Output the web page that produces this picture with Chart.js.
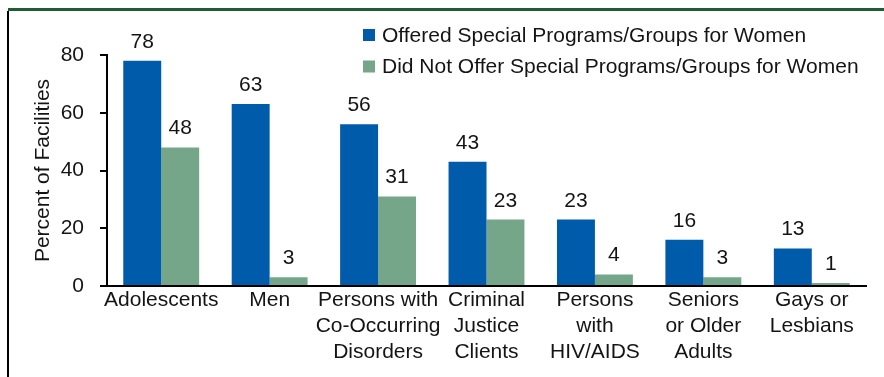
<!DOCTYPE html>
<html>
<head>
<meta charset="utf-8">
<script src="https://cdn.jsdelivr.net/npm/chart.js@4.4.1/dist/chart.umd.min.js"></script>
<style>
  body { margin: 0; background: #fff; }
  #wrap { position: relative; width: 884px; height: 377px; }
  #topLine { position: absolute; left: 8px; top: 8px; width: 876px; height: 3px; background: #1f5e34; }
  #leftLine { position: absolute; left: 7px; top: 11px; width: 2px; height: 366px; background: #000; }
  canvas { position: absolute; left: 0; top: 0; }
</style>
</head>
<body>
<div id="wrap">
  <div id="topLine"></div>
  <div id="leftLine"></div>
  <canvas id="chart" width="884" height="377"></canvas>
</div>
<script>
const categories = [
  ["Adolescents"],
  ["Men"],
  ["Persons with", "Co-Occurring", "Disorders"],
  ["Criminal", "Justice", "Clients"],
  ["Persons", "with", "HIV/AIDS"],
  ["Seniors", "or Older", "Adults"],
  ["Gays or", "Lesbians"]
];
const offered = [78, 63, 56, 43, 23, 16, 13];
const notOffered = [48, 3, 31, 23, 4, 3, 1];
const yTicks = [0, 20, 40, 60, 80];

const FONT = "'Liberation Sans', Arial, Helvetica, sans-serif";
const TEXT = "#141414";
const SIZE = 21;

// values above each bar
const barLabels = {
  id: "barLabels",
  afterDatasetsDraw(chart) {
    const ctx = chart.ctx;
    ctx.save();
    ctx.font = SIZE + "px " + FONT;
    ctx.fillStyle = TEXT;
    ctx.textAlign = "center";
    ctx.textBaseline = "alphabetic";
    chart.data.datasets.forEach((ds, i) => {
      chart.getDatasetMeta(i).data.forEach((bar, j) => {
        ctx.fillText(ds.data[j], bar.x, bar.y - 13);
      });
    });
    ctx.restore();
  }
};

// legend stacked in the upper right, left aligned
const sideLegend = {
  id: "sideLegend",
  afterDraw(chart) {
    const ctx = chart.ctx;
    ctx.save();
    ctx.font = SIZE + "px " + FONT;
    ctx.textBaseline = "alphabetic";
    ctx.textAlign = "left";
    chart.data.datasets.forEach((ds, i) => {
      const y = 29 + i * 31.5;
      ctx.fillStyle = ds.backgroundColor;
      ctx.fillRect(363, y, 12, 12);
      ctx.fillStyle = TEXT;
      ctx.fillText(ds.label, 382, y + 12.5);
    });
    ctx.restore();
  }
};

new Chart(document.getElementById("chart"), {
  type: "bar",
  data: {
    labels: categories,
    datasets: [
      {
        label: "Offered Special Programs/Groups for Women",
        data: offered,
        backgroundColor: "#005baa",
        categoryPercentage: 0.7,
        barPercentage: 1
      },
      {
        label: "Did Not Offer Special Programs/Groups for Women",
        data: notOffered,
        backgroundColor: "#75a68a",
        categoryPercentage: 0.7,
        barPercentage: 1
      }
    ]
  },
  options: {
    responsive: false,
    animation: false,
    devicePixelRatio: 1,
    layout: { padding: { left: 30.4, top: 55, right: 18, bottom: 0 } },
    plugins: {
      legend: { display: false },
      tooltip: { enabled: false }
    },
    scales: {
      x: {
        afterFit(scale) { scale.height = 91; },
        grid: { display: false, drawTicks: false },
        border: { display: true, color: "#000", width: 2 },
        ticks: {
          color: TEXT,
          font: { family: FONT, size: SIZE, lineHeight: 1.24 },
          padding: 1,
          maxRotation: 0,
          autoSkip: false
        }
      },
      y: {
        min: 0,
        max: 80,
        afterBuildTicks(scale) {
          scale.ticks = yTicks.map(v => ({ value: v }));
        },
        afterFit(scale) { scale.width = 107 - 30.4; },
        grid: {
          display: true,
          drawOnChartArea: false,
          drawTicks: true,
          tickLength: 7,
          color: "#000",
          lineWidth: 2
        },
        border: { display: true, color: "#000", width: 2 },
        ticks: {
          color: TEXT,
          font: { family: FONT, size: SIZE },
          padding: 16
        },
        title: {
          display: true,
          text: "Percent of Facilities",
          color: TEXT,
          font: { family: FONT, size: SIZE },
          padding: { top: 0, bottom: 5 }
        }
      }
    }
  },
  plugins: [barLabels, sideLegend]
});
</script>
</body>
</html>
